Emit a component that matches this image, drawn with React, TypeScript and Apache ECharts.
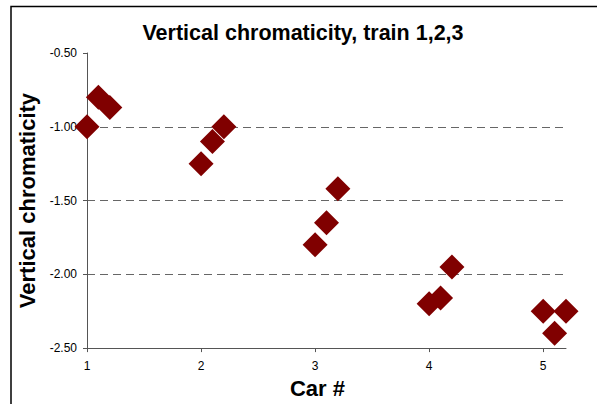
import React, { useEffect, useRef } from "react";
import * as echarts from "echarts";

const carX = [1, 1.1, 1.2, 2, 2.1, 2.2, 3, 3.1, 3.2, 4, 4.1, 4.2, 5, 5.1, 5.2];
const chroma = [-1.0, -0.8, -0.87, -1.25, -1.1, -1.0, -1.8, -1.65, -1.42, -2.2, -2.16, -1.95, -2.25, -2.4, -2.25];
const xTicks = [1, 2, 3, 4, 5];
const titleText = "Vertical chromaticity, train 1,2,3";
const xName = "Car #";
const yName = "Vertical chromaticity";

export default function App() {
  const ref = useRef<HTMLDivElement>(null);
  useEffect(() => {
    if (!ref.current) return;
    const chart = echarts.init(ref.current, undefined, { renderer: "svg" });
    const font = "'Liberation Sans', Arial, sans-serif";
    chart.setOption({
      animation: false,
      backgroundColor: "#ffffff",
      textStyle: { fontFamily: font },
      title: {
        text: titleText,
        left: 303,
        top: 22,
        padding: 0,
        textAlign: "center",
        textStyle: { fontFamily: font, fontWeight: "bold", fontSize: 21.5, color: "#000" },
      },
      graphic: [
        {
          type: "rect",
          shape: { x: 11, y: 6.5, width: 700, height: 500 },
          style: { fill: "none", stroke: "#000", lineWidth: 1.5 },
          silent: true,
        },
      ],
      grid: { left: 87, right: 31, top: 53, height: 298, containLabel: false },
      xAxis: {
        type: "value",
        min: 1,
        max: 5.2,
        interval: 1,
        name: xName,
        nameLocation: "middle",
        nameGap: 25,
        nameTextStyle: {
          fontFamily: font,
          fontWeight: "bold",
          fontSize: 22,
          color: "#000",
          padding: [0, 18, 0, 0],
        },
        axisLine: { show: true, lineStyle: { color: "#555", width: 1 } },
        axisTick: { show: true, length: 4, lineStyle: { color: "#555" }, customValues: xTicks },
        axisLabel: { fontSize: 12, color: "#000", margin: 12, customValues: xTicks, formatter: (v: number) => String(v) },
        splitLine: { show: false },
      },
      yAxis: {
        type: "value",
        min: -2.5,
        max: -0.5,
        interval: 0.5,
        name: yName,
        nameLocation: "middle",
        nameGap: 48,
        nameRotate: 90,
        nameTextStyle: { fontFamily: font, fontWeight: "bold", fontSize: 22, color: "#000" },
        axisLine: { show: true, onZero: false, lineStyle: { color: "#555", width: 1 } },
        axisTick: { show: true, length: 4, lineStyle: { color: "#555" } },
        axisLabel: { fontSize: 12, color: "#000", margin: 10, formatter: (v: number) => v.toFixed(2) },
        splitLine: {
          show: true,
          showMinLine: false,
          showMaxLine: false,
          lineStyle: { color: "#666", type: [8, 5], width: 1 },
        },
      },
      series: [
        {
          type: "scatter",
          symbol: "diamond",
          symbolSize: 25,
          itemStyle: { color: "#800000", opacity: 1 },
          data: carX.map((x, i) => [x, chroma[i]]),
        },
      ],
    });
    return () => chart.dispose();
  }, []);
  return <div ref={ref} style={{ position: "fixed", left: 0, top: 0, width: 597, height: 404 }} />;
}
